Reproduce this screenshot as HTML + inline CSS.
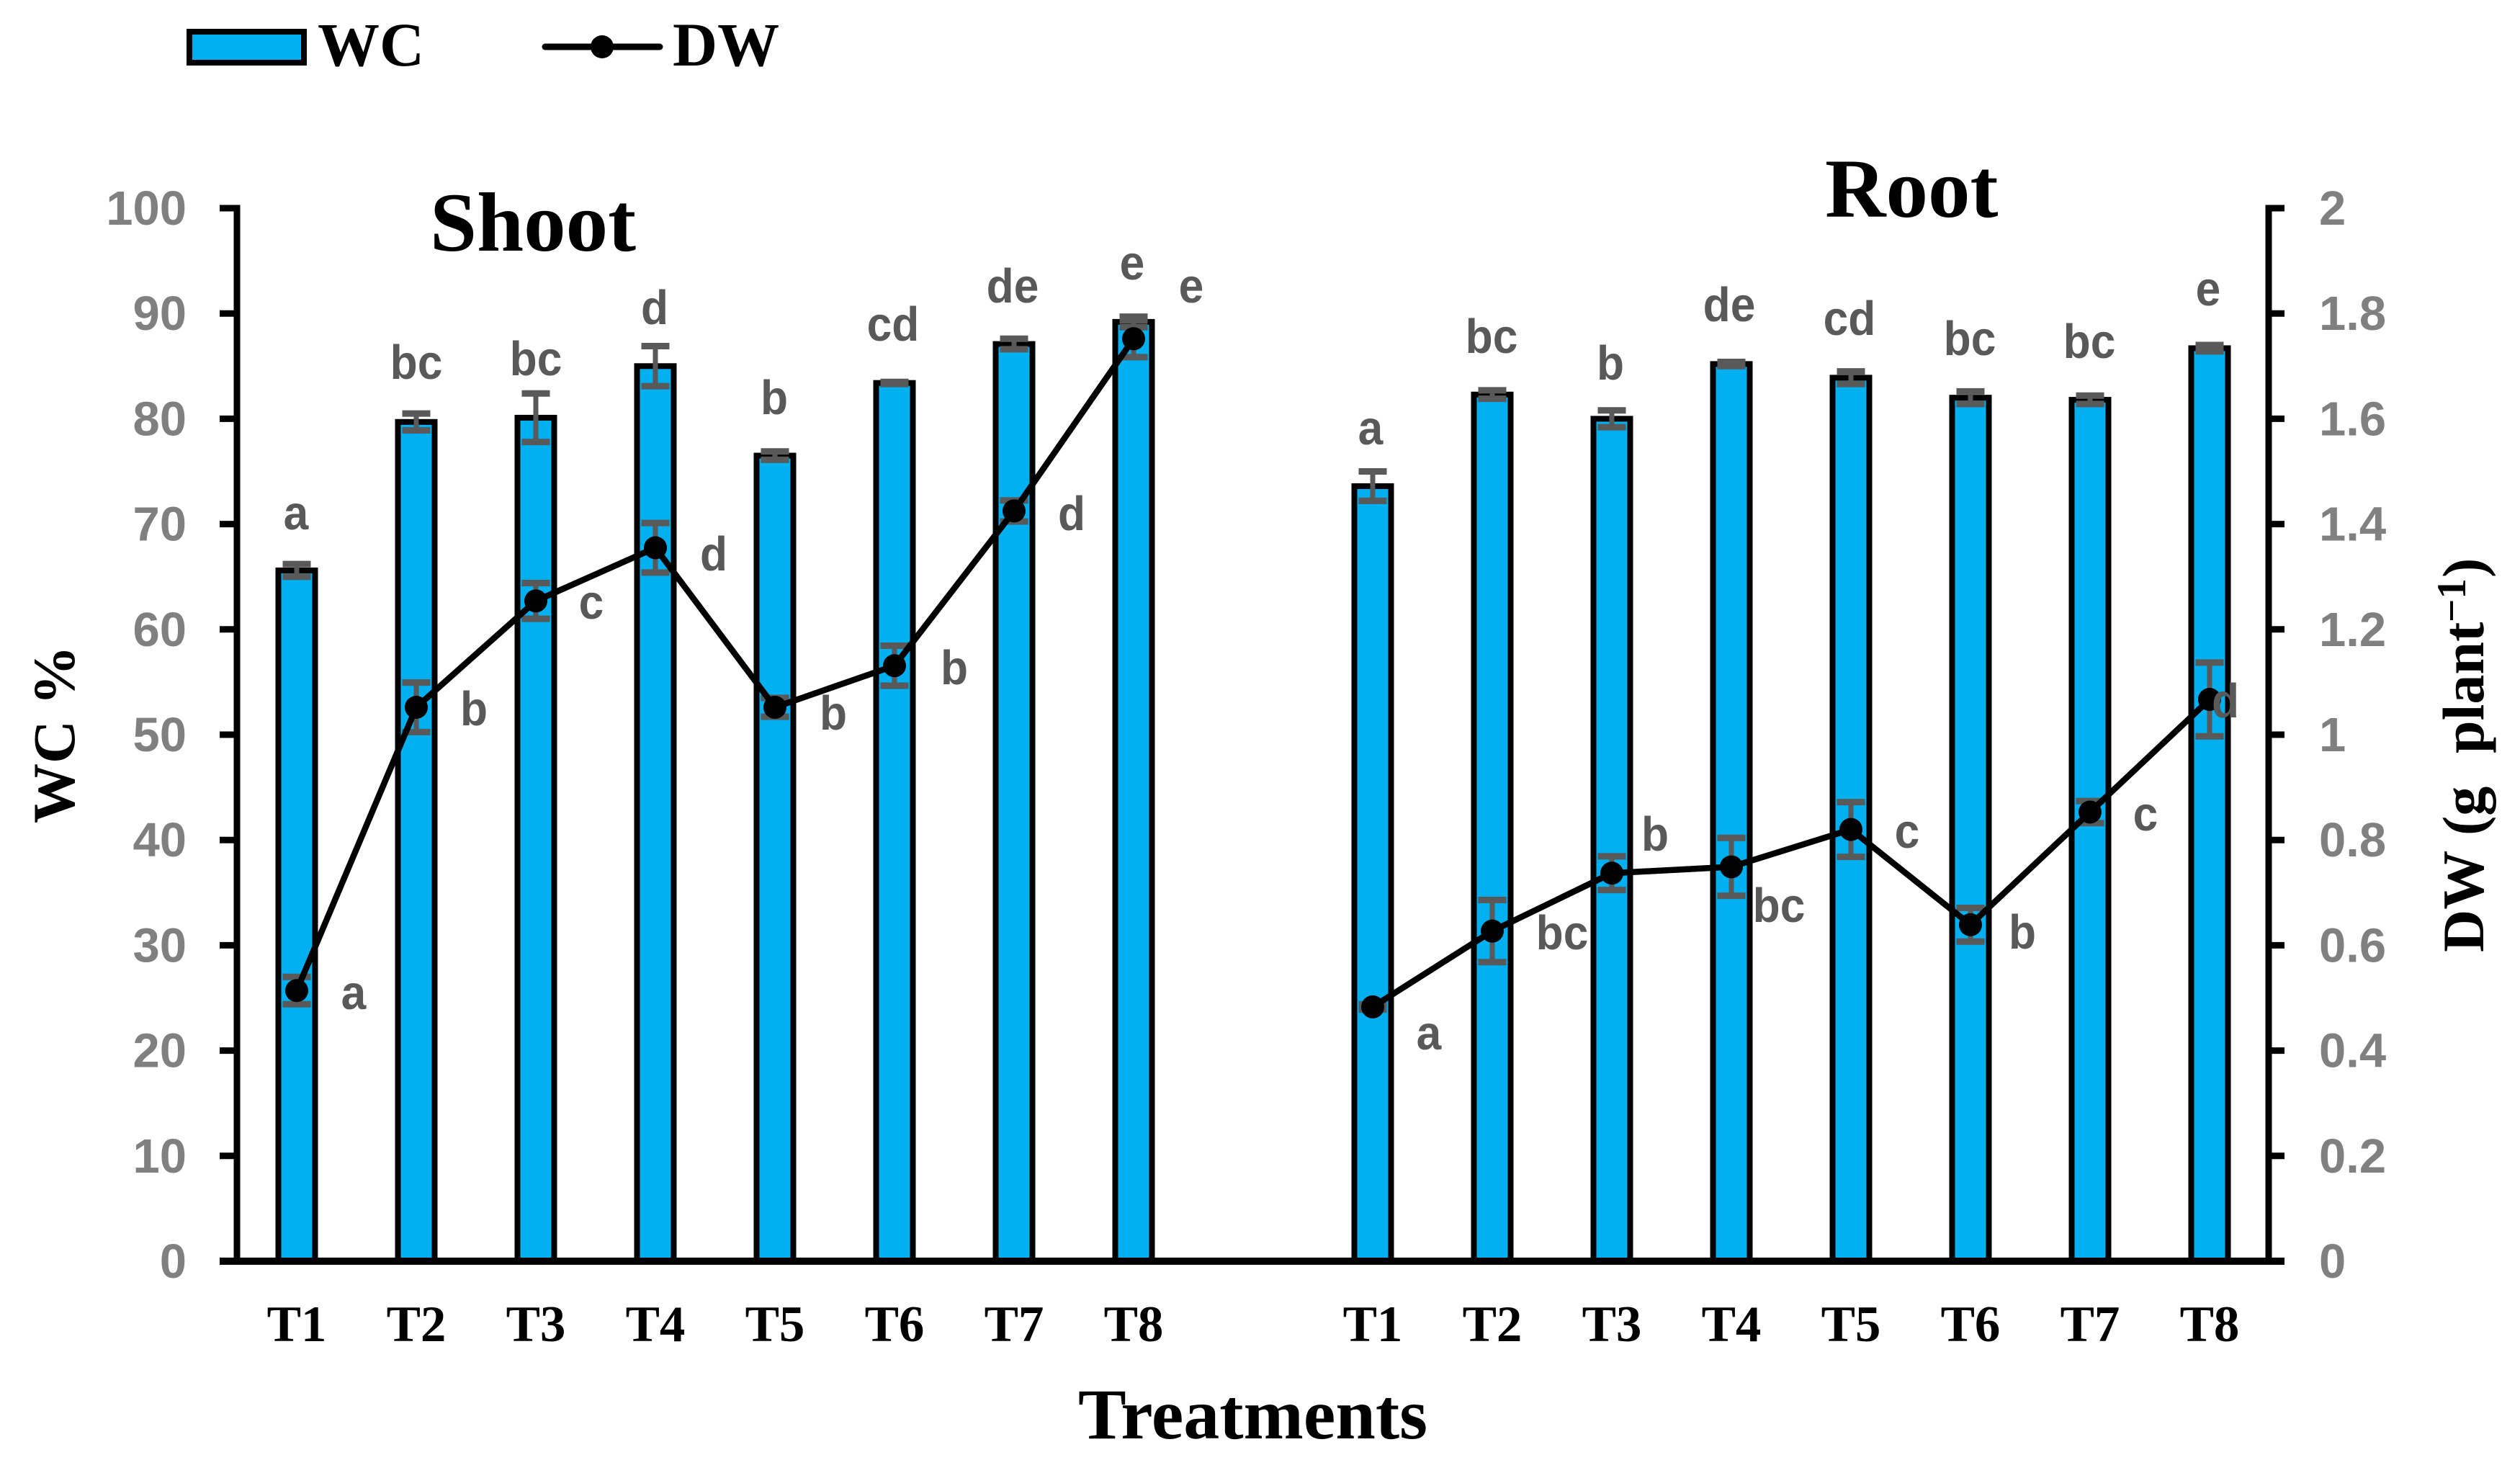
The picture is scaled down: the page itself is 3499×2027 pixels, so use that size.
<!DOCTYPE html>
<html lang="en">
<head>
<meta charset="utf-8">
<title>WC and DW of shoot and root by treatment</title>
<style>
  html, body { margin: 0; padding: 0; background: #fff; }
  svg { display: block; }
  .serif { font-family: "Liberation Serif", serif; font-weight: bold; fill: #000; }
  .tick { font-family: "Liberation Sans", sans-serif; font-weight: bold; font-size: 67px; fill: #808080; }
  .let { font-family: "Liberation Sans", sans-serif; font-weight: bold; font-size: 67px; fill: #595959; text-anchor: middle; }
</style>
</head>
<body>
<svg id="chart" xmlns="http://www.w3.org/2000/svg" width="3499" height="2027" viewBox="0 0 3499 2027">
  <rect x="0" y="0" width="3499" height="2027" fill="#fff"/>

  <g>
    <rect x="263" y="44" width="159" height="43" fill="#00B0F0" stroke="#000" stroke-width="8"/>
    <text class="serif" x="441" y="91" font-size="86">WC</text>
    <line x1="757" y1="65" x2="916" y2="65" stroke="#000" stroke-width="9" stroke-linecap="round"/>
    <circle cx="836" cy="65" r="16" fill="#000"/>
    <text class="serif" x="934" y="91" font-size="86">DW</text>
  </g>

  <g id="bars"></g>
  <g id="wcErrors"></g>
  <g id="axes"></g>
  <g id="dwErrors"></g>
  <g id="lines"></g>

  <text class="serif" x="597" y="348" font-size="117">Shoot</text>
  <text class="serif" x="2534" y="301" font-size="117">Root</text>
  <text class="serif" x="1497" y="1997" font-size="100">Treatments</text>
  <text class="serif" font-size="83" transform="translate(103,1143) rotate(-90)">WC %</text>
  <text class="serif" font-size="82" transform="translate(3448,1322) rotate(-90)"><tspan>DW </tspan><tspan x="162">(g </tspan><tspan x="276">plant</tspan><tspan x="458" dy="-25" font-size="57">−1</tspan><tspan x="520" dy="25">)</tspan></text>

  <g>
    <text class="let" transform="translate(411,735) scale(.93,1)">a</text>
    <text class="let" transform="translate(578,526) scale(.93,1)">bc</text>
    <text class="let" transform="translate(744,521) scale(.93,1)">bc</text>
    <text class="let" transform="translate(909,450) scale(.93,1)">d</text>
    <text class="let" transform="translate(1075,575) scale(.93,1)">b</text>
    <text class="let" transform="translate(1240,473) scale(.93,1)">cd</text>
    <text class="let" transform="translate(1406,420) scale(.93,1)">de</text>
    <text class="let" transform="translate(1572,388) scale(.93,1)">e</text>
    <text class="let" transform="translate(1903,617) scale(.93,1)">a</text>
    <text class="let" transform="translate(2071,490) scale(.93,1)">bc</text>
    <text class="let" transform="translate(2236,527) scale(.93,1)">b</text>
    <text class="let" transform="translate(2401,446) scale(.93,1)">de</text>
    <text class="let" transform="translate(2568,465) scale(.93,1)">cd</text>
    <text class="let" transform="translate(2735,493) scale(.93,1)">bc</text>
    <text class="let" transform="translate(2901,497) scale(.93,1)">bc</text>
    <text class="let" transform="translate(3066,424) scale(.93,1)">e</text>
  </g>
  <g>
    <text class="let" transform="translate(491,1401) scale(.93,1)">a</text>
    <text class="let" transform="translate(658,1007) scale(.93,1)">b</text>
    <text class="let" transform="translate(821,859) scale(.93,1)">c</text>
    <text class="let" transform="translate(991,792) scale(.93,1)">d</text>
    <text class="let" transform="translate(1157,1013) scale(.93,1)">b</text>
    <text class="let" transform="translate(1325,950) scale(.93,1)">b</text>
    <text class="let" transform="translate(1488,736) scale(.93,1)">d</text>
    <text class="let" transform="translate(1654,420) scale(.93,1)">e</text>
    <text class="let" transform="translate(1984,1457) scale(.93,1)">a</text>
    <text class="let" transform="translate(2169,1318) scale(.93,1)">bc</text>
    <text class="let" transform="translate(2298,1181) scale(.93,1)">b</text>
    <text class="let" transform="translate(2470,1280) scale(.93,1)">bc</text>
    <text class="let" transform="translate(2648,1177) scale(.93,1)">c</text>
    <text class="let" transform="translate(2808,1317) scale(.93,1)">b</text>
    <text class="let" transform="translate(2979,1153) scale(.93,1)">c</text>
    <text class="let" transform="translate(3090,996) scale(.93,1)">d</text>
  </g>
</svg>

<script>
const treatments = ['T1', 'T2', 'T3', 'T4', 'T5', 'T6', 'T7', 'T8'];
const shootWC = [65.6, 79.7, 80.1, 85.0, 76.5, 83.4, 87.1, 89.2];
const shootWCErr = [0.6, 0.8, 2.3, 1.9, 0.4, 0.1, 0.5, 0.5];
const rootWC = [73.6, 82.3, 80.0, 85.2, 83.9, 82.0, 81.8, 86.7];
const rootWCErr = [1.4, 0.4, 0.8, 0.2, 0.6, 0.6, 0.4, 0.3];
const shootDW = [0.514, 1.052, 1.254, 1.355, 1.052, 1.131, 1.425, 1.752];
const shootDWErr = [0.026, 0.047, 0.034, 0.047, 0.018, 0.038, 0.02, 0.035];
const rootDW = [0.483, 0.627, 0.737, 0.749, 0.82, 0.639, 0.853, 1.067];
const rootDWErr = [0.005, 0.059, 0.032, 0.055, 0.052, 0.032, 0.021, 0.07];
const wcTicks = [0, 10, 20, 30, 40, 50, 60, 70, 80, 90, 100];
const dwTicks = ['0', '0.2', '0.4', '0.6', '0.8', '1', '1.2', '1.4', '1.6', '1.8', '2'];

const NS = 'http://www.w3.org/2000/svg';
const plotTop = 289, plotBottom = 1751;
const axisLeft = 329, axisRight = 3150;
const firstCenter = 412, slot = 166, rootOffset = 9;
const wcMax = 100, dwMax = 2;

function yWC(v) { return plotBottom - (v / wcMax) * (plotBottom - plotTop); }
function yDW(v) { return plotBottom - (v / dwMax) * (plotBottom - plotTop); }
function xSlot(i) { return firstCenter + slot * i; }

function make(tag, parent, attrs) {
  const el = document.createElementNS(NS, tag);
  for (const k in attrs) el.setAttribute(k, attrs[k]);
  parent.appendChild(el);
  return el;
}

const barsG = document.getElementById('bars');
const wcErrG = document.getElementById('wcErrors');
const dwErrG = document.getElementById('dwErrors');
const linesG = document.getElementById('lines');
const axesG = document.getElementById('axes');

function drawError(parent, x, yHi, yLo, name) {
  const g = make('g', parent, { stroke: '#595959', fill: 'none' });
  
  
  make('line', g, { x1: x, x2: x, y1: yHi, y2: yLo, 'stroke-width': 7 });
  make('line', g, { x1: x - 19.5, x2: x + 19.5, y1: yHi, y2: yHi, 'stroke-width': 9 });
  make('line', g, { x1: x - 19.5, x2: x + 19.5, y1: yLo, y2: yLo, 'stroke-width': 9 });
}

function drawPanel(label, offset, wc, wcErr, dw, dwErr) {
  wc.forEach(function (v, i) {
    const x = xSlot(offset + i);
    const top = yWC(v);
    const bar = make('rect', barsG, { x: x - 25.5, y: top, width: 51, height: plotBottom - top, fill: '#00B0F0', stroke: '#000', 'stroke-width': 8 });
    
    
    drawError(wcErrG, x, yWC(v + wcErr[i]), yWC(v - wcErr[i]), 'wc-error-' + label + '-' + treatments[i].toLowerCase());
  });
  dw.forEach(function (v, i) {
    const x = xSlot(offset + i);
    drawError(dwErrG, x, yDW(v + dwErr[i]), yDW(v - dwErr[i]), 'dw-error-' + label + '-' + treatments[i].toLowerCase());
  });
  const pts = dw.map(function (v, i) { return xSlot(offset + i) + ',' + yDW(v); }).join(' ');
  const line = make('polyline', linesG, { points: pts, fill: 'none', stroke: '#000', 'stroke-width': 8.5, 'stroke-linejoin': 'round' });
  
  
  dw.forEach(function (v, i) {
    const dot = make('circle', linesG, { cx: xSlot(offset + i), cy: yDW(v), r: 16, fill: '#000' });
    
    
  });
  treatments.forEach(function (t, i) {
    const lab = make('text', axesG, { x: xSlot(offset + i), y: 1862, 'text-anchor': 'middle', class: 'serif', 'font-size': 71 });
    lab.textContent = t;
    
    
  });
}

drawPanel('shoot', 0, shootWC, shootWCErr, shootDW, shootDWErr);
drawPanel('root', rootOffset, rootWC, rootWCErr, rootDW, rootDWErr);

const leftAxis = make('line', axesG, { x1: axisLeft, x2: axisLeft, y1: plotTop - 4.5, y2: plotBottom, stroke: '#000', 'stroke-width': 9 });


const rightAxis = make('line', axesG, { x1: axisRight, x2: axisRight, y1: plotTop - 4.5, y2: plotBottom, stroke: '#000', 'stroke-width': 9 });


const xAxis = make('line', axesG, { x1: 305, x2: 3172, y1: plotBottom, y2: plotBottom, stroke: '#000', 'stroke-width': 10 });



wcTicks.forEach(function (t) {
  const y = yWC(t);
  const mark = make('line', axesG, { x1: 305, x2: axisLeft, y1: y, y2: y, stroke: '#000', 'stroke-width': 9 });
  
  
  const lab = make('text', axesG, { x: 259, y: y + 23, 'text-anchor': 'end', class: 'tick' });
  lab.textContent = t;
  
  
});

dwTicks.forEach(function (t) {
  const y = yDW(parseFloat(t));
  const mark = make('line', axesG, { x1: axisRight, x2: 3172, y1: y, y2: y, stroke: '#000', 'stroke-width': 9 });
  
  
  const lab = make('text', axesG, { x: 3220, y: y + 23, 'text-anchor': 'start', class: 'tick' });
  lab.textContent = t;
  
  
});
</script>
</body>
</html>
